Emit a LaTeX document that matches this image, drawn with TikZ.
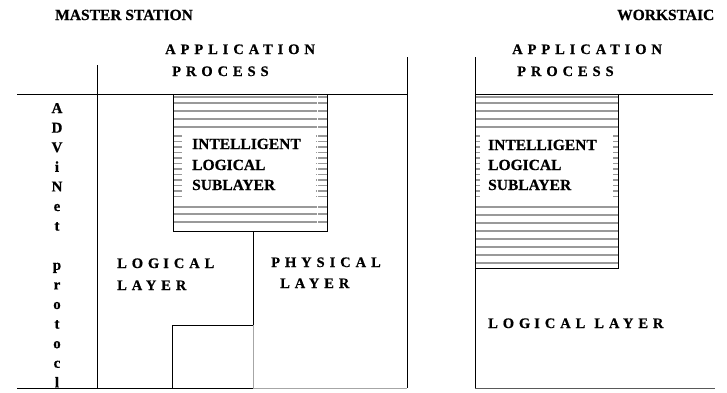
\documentclass[tikz,border=0pt]{standalone}
\usepackage{fontspec}
\setmainfont{Liberation Serif}[BoldFont={Liberation Serif Bold}]
\newfontfamily\boldfont{Liberation Serif Bold}[FakeBold=0.6]
\newfontfamily\spacedfont{Liberation Serif Bold}[LetterSpace=34,FakeBold=0.6]
\tikzset{
  ln/.style={line width=1pt, black},
  lightln/.style={line width=0.8pt, black!35},
  hatch/.style={black!40, line width=1.1pt},
  lbl/.style={font=\boldfont\fontsize{15.5}{15.5}\selectfont, inner sep=0pt, anchor=base west},
  slbl/.style={font=\spacedfont\fontsize{14.5}{14.5}\selectfont, inner sep=0pt, anchor=base west},
  vl/.style={font=\boldfont\fontsize{15}{15}\selectfont, inner sep=0pt, anchor=base},
}
\begin{document}
\begin{tikzpicture}[x=1pt,y=-1pt]
\useasboundingbox (0,0) rectangle (727,392);
% ---------- master station hatched sublayer box
\foreach \y in {97,103,111,119,127,207,214,222}
  \draw[hatch] (173,\y) -- (327,\y);
\foreach \y in {136,141.5,...,198}
  {\draw[hatch] (173,\y) -- (182,\y); \draw[hatch] (316,\y) -- (327,\y);}
\draw[white, line width=0.8pt] (317,95) -- (317,230);
\draw[ln] (173,94) rectangle (327,231);
% ---------- workstation hatched sublayer box
\foreach \y in {97,103,111,119,127,207,215,223,231,239,247,255,263}
  \draw[hatch] (475,\y) -- (618,\y);
\foreach \y in {136,141.5,...,198}
  {\draw[hatch] (475,\y) -- (480,\y); \draw[hatch] (613,\y) -- (618,\y);}
\draw[ln] (475,94) rectangle (618,268);
% ---------- master station frame
\draw[ln] (17,94) -- (407,94);
\draw[ln] (97,65) -- (97,388);
\draw[ln] (407,57) -- (407,388);
\draw[ln] (17,388) -- (253,388);
\draw[lightln] (253,388) -- (407,388);
\draw[ln] (253,231) -- (253,325) -- (172,325) -- (172,388);
\draw[lightln] (253,325) -- (253,388);
% ---------- workstation frame
\draw[ln] (475,57) -- (475,388);
\draw[line width=1pt, black!65] (475,388) -- (715,388);
\draw[ln] (475,94) -- (713,94);
% ---------- texts
\node[lbl] (mst) at (55,20) {MASTER STATION};
\node[lbl] (wst) at (617,20) {WORKSTAIC};
\node[slbl] (map1) at (165,54) {APPLICATION};
\node[slbl] (map2) at (172,76) {PROCESS};
\node[slbl] (wap1) at (512,54) {APPLICATION};
\node[slbl] (wap2) at (517,76) {PROCESS};
\node[lbl] (mis1) at (192,149) {INTELLIGENT};
\node[lbl] (mis2) at (192,170) {LOGICAL};
\node[lbl] (mis3) at (192,190) {SUBLAYER};
\node[lbl] (wis1) at (488,150) {INTELLIGENT};
\node[lbl] (wis2) at (488,170) {LOGICAL};
\node[lbl] (wis3) at (488,190) {SUBLAYER};
\node[slbl] (mll1) at (117,268) {LOG\hspace{4pt}ICAL};
\node[slbl] (mll2) at (117,290) {LAYER};
\node[slbl] (mpl1) at (271,267) {PHYS\hspace{5pt}ICA\hspace{5pt}L};
\node[slbl] (mpl2) at (280,288) {LAYER};
\node[slbl] (wll) at (488,328) {LOG\hspace{4pt}ICAL\hspace{9pt}LAYER};
\foreach \c [count=\i] in {A,D,V,i,N,e,t,{},p,r,o,t,o,c,l}
  \node[vl] (adv\i) at (57,{113+19.6*(\i-1)}) {\c};
\end{tikzpicture}
\end{document}
